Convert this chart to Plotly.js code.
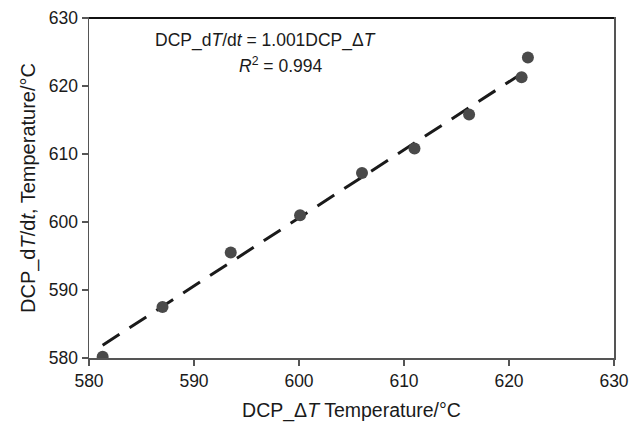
<!DOCTYPE html>
<html>
<head>
<meta charset="utf-8">
<script src="https://cdn.plot.ly/plotly-3.0.1.min.js"></script>
<style>html,body{margin:0;padding:0;background:#fff;}#chart{width:630px;height:425px;}</style>
</head>
<body>
<div id="chart"></div>
<script>
const xValues = [581.3, 587.0, 593.5, 600.1, 606.0, 611.0, 616.2, 621.2, 621.8];
const yValues = [580.2, 587.5, 595.5, 601.0, 607.2, 610.8, 615.8, 621.3, 624.2];
const slope = 1.001;
const fitX = [581.3, 621.8];
const fitY = fitX.map(v => slope * v);
const xTicks = [580, 590, 600, 610, 620, 630];
const yTicks = [580, 590, 600, 610, 620, 630];

const font = "Liberation Sans, Arial, sans-serif";
const traces = [
  {x: fitX, y: fitY, mode: 'lines', line: {color: '#1a1a1a', width: 3, dash: '20px,12px'}, hoverinfo: 'skip'},
  {x: xValues, y: yValues, mode: 'markers', marker: {color: '#4a4a4a', size: 12, line: {width: 0}}}
];
const layout = {
  width: 630, height: 425,
  margin: {l: 89, r: 16, t: 18, b: 67},
  showlegend: false,
  paper_bgcolor: '#fff', plot_bgcolor: '#fff',
  font: {family: font, color: '#1a1a1a', size: 15},
  xaxis: {range: [580, 630], tickvals: xTicks, ticks: 'outside', ticklen: 6, tickcolor: '#555', tickwidth: 1.5,
    showline: true, linecolor: '#555', linewidth: 1.5, mirror: true, showgrid: false, zeroline: false,
    tickfont: {size: 17.5}, title: {text: 'DCP_Δ<i>T</i> Temperature/°C', font: {size: 19.5}, standoff: 14}},
  yaxis: {range: [580, 630], tickvals: yTicks, ticks: 'outside', ticklen: 6, tickcolor: '#555', tickwidth: 1.5,
    showline: true, linecolor: '#555', linewidth: 1.5, mirror: true, showgrid: false, zeroline: false,
    tickfont: {size: 17.5}, title: {text: 'DCP_d<i>T</i>/d<i>t</i>, Temperature/°C', font: {size: 20}, standoff: 8}},
  shapes: [
    {type: 'line', xref: 'paper', yref: 'paper', x0: 0, x1: 1, y0: 1, y1: 1, line: {color: '#111', width: 2}}
  ],
  annotations: [
    {xref: 'paper', yref: 'paper', x: (265-89)/525, y: (358-41)/340, text: 'DCP_d<i>T</i>/d<i>t</i> = 1.001DCP_Δ<i>T</i>', showarrow: false, font: {size: 17.5}, xanchor: 'center', yanchor: 'middle'},
    {xref: 'paper', yref: 'paper', x: (280-89)/525, y: (358-65)/340, text: '<i>R</i><sup>2</sup> = 0.994', showarrow: false, font: {size: 17.5}, xanchor: 'center', yanchor: 'middle'}
  ]
};
Plotly.newPlot('chart', traces, layout, {displayModeBar: false, staticPlot: true});
</script>
</body>
</html>
